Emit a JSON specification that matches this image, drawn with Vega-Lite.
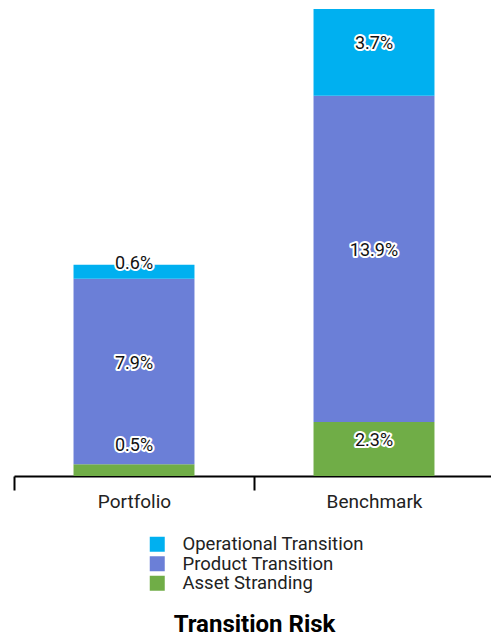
{
  "$schema": "https://vega.github.io/schema/vega-lite/v6.json",
  "width": 477,
  "height": 467,
  "autosize": {"type": "none"},
  "padding": {"left": 14, "top": 9, "right": 0, "bottom": 161},
  "config": {"font": "Roboto", "view": {"stroke": null}},
  "data": {"values": [
    {"category": "Portfolio", "type": "Asset Stranding", "rank": 1, "value": 0.5},
    {"category": "Portfolio", "type": "Product Transition", "rank": 2, "value": 7.9},
    {"category": "Portfolio", "type": "Operational Transition", "rank": 3, "value": 0.6},
    {"category": "Benchmark", "type": "Asset Stranding", "rank": 1, "value": 2.3},
    {"category": "Benchmark", "type": "Product Transition", "rank": 2, "value": 13.9},
    {"category": "Benchmark", "type": "Operational Transition", "rank": 3, "value": 3.7}
  ]},
  "transform": [
    {"stack": "value", "groupby": ["category"], "sort": [{"field": "rank"}], "as": ["y0", "y1"]},
    {"calculate": "max((datum.y0 + datum.y1) / 2, 0.94)", "as": "labelY"},
    {"calculate": "format(datum.value, '.1f') + '%'", "as": "label"}
  ],
  "encoding": {
    "x": {
      "field": "category", "type": "nominal", "sort": ["Portfolio", "Benchmark"],
      "scale": {"paddingInner": 0, "paddingOuter": 0, "range": [0, 480]},
      "axis": {
        "title": "Transition Risk", "titleFontSize": 24, "titleFontWeight": "bold", "titleColor": "#000",
        "titlePadding": 101,
        "labelAngle": 0, "labelFontSize": 19, "labelColor": "#222", "labelPadding": 2,
        "tickBand": "extent", "tickSize": 14, "tickColor": "#000", "tickWidth": 2,
        "domainColor": "#000", "domainWidth": 2
      }
    }
  },
  "layer": [
    {
      "mark": {"type": "bar", "width": {"band": 0.504}},
      "encoding": {
        "y": {"field": "y1", "type": "quantitative", "scale": {"nice": false}, "axis": null},
        "y2": {"field": "y0"},
        "color": {
          "field": "type", "type": "nominal",
          "scale": {"domain": ["Operational Transition", "Product Transition", "Asset Stranding"], "range": ["#00B0F0", "#6B7FD7", "#70AD47"]},
          "legend": {
            "title": null, "orient": "none", "legendX": 134, "legendY": 526,
            "symbolType": "square", "symbolSize": 225, "symbolStrokeWidth": 0,
            "labelFontSize": 18.5, "labelColor": "#222", "labelOffset": 16, "rowPadding": 0.5, "labelLimit": 0
          }
        }
      }
    },
    {
      "mark": {"type": "text", "fontSize": 18, "stroke": "#fff", "strokeWidth": 4, "strokeJoin": "round", "fill": "#fff", "dy": -8},
      "encoding": {
        "y": {"field": "labelY", "type": "quantitative"},
        "text": {"field": "label"}
      }
    },
    {
      "mark": {"type": "text", "fontSize": 18, "fill": "#111", "dy": -8},
      "encoding": {
        "y": {"field": "labelY", "type": "quantitative"},
        "text": {"field": "label"}
      }
    }
  ]
}
